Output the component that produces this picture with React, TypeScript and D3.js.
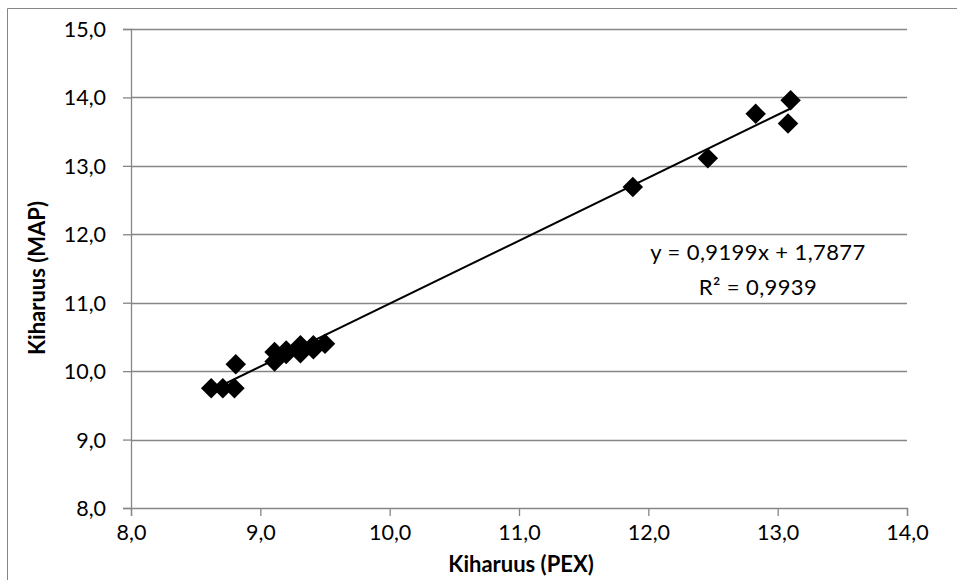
import { useEffect, useRef } from "react";
import * as d3 from "d3";

// PEX vs MAP readings
const pexValues = [8.62, 8.71, 8.8, 8.81, 9.11, 9.11, 9.2, 9.2, 9.31, 9.31, 9.41, 9.41, 9.5, 11.88, 12.46, 12.83, 13.08, 13.1];
const mapValues = [9.75, 9.75, 9.75, 10.1, 10.14, 10.28, 10.25, 10.3, 10.26, 10.38, 10.32, 10.38, 10.4, 12.69, 13.11, 13.76, 13.62, 13.96];
const xTicks = [8, 9, 10, 11, 12, 13, 14];
const yTicks = [8, 9, 10, 11, 12, 13, 14, 15];
const slope = 0.9199;
const intercept = 1.7877;
const equationLines = ["y = 0,9199x + 1,7877", "R² = 0,9939"];

const fmt = (d: number) => d3.format(".1f")(d).replace(".", ",");

const App = () => {
  const svgRef = useRef<SVGSVGElement | null>(null);

  useEffect(() => {
    const svg = d3.select(svgRef.current);
    svg.selectAll("*").remove();
    const width = 957;
    const height = 580;
    const margin = { top: 29, right: 50, bottom: 72, left: 131 };
    const innerWidth = width - margin.left - margin.right;
    const innerHeight = height - margin.top - margin.bottom;
    const font = "Lato, 'Open Sans', sans-serif";

    // chart frame (cut off at right and bottom)
    svg
      .append("path")
      .attr("d", `M7.5,${height + 2}V8.5H${width + 2}`)
      .attr("fill", "none")
      .attr("stroke", "#868686");

    const g = svg
      .append("g")
      .attr("transform", `translate(${margin.left},${margin.top})`);

    const x = d3.scaleLinear().domain([8, 14]).range([0, innerWidth]);
    const y = d3.scaleLinear().domain([8, 15]).range([innerHeight, 0]);

    // gridlines
    g.append("g")
      .selectAll("line")
      .data(yTicks.filter((t) => t > 8))
      .join("line")
      .attr("x1", 0)
      .attr("x2", innerWidth)
      .attr("y1", (d) => Math.round(y(d)) + 0.5)
      .attr("y2", (d) => Math.round(y(d)) + 0.5)
      .attr("stroke", "#868686")
      .attr("stroke-width", 1.3);

    const xAxis = d3
      .axisBottom(x)
      .tickValues(xTicks)
      .tickSize(8)
      .tickPadding(9)
      .tickFormat((d) => fmt(d as number));
    const yAxis = d3
      .axisLeft(y)
      .tickValues(yTicks)
      .tickSize(8)
      .tickPadding(17)
      .tickFormat((d) => fmt(d as number));

    const xg = g
      .append("g")
      .attr("transform", `translate(0,${innerHeight})`)
      .call(xAxis);
    const yg = g.append("g").call(yAxis);

    [xg, yg].forEach((ax) => {
      ax.selectAll(".domain").attr("stroke", "#868686").attr("stroke-width", 1.3);
      ax.selectAll(".tick line").attr("stroke", "#868686").attr("stroke-width", 1.3);
      ax.selectAll("text")
        .attr("fill", "#000")
        .style("font-family", font)
        .style("font-size", "21.5px");
    });
    yg.selectAll(".tick text").attr("dy", "0.35em");

    // trendline
    const xExt = d3.extent(pexValues) as [number, number];
    g.append("line")
      .attr("x1", x(xExt[0]))
      .attr("y1", y(slope * xExt[0] + intercept))
      .attr("x2", x(xExt[1]))
      .attr("y2", y(slope * xExt[1] + intercept))
      .attr("stroke", "#000")
      .attr("stroke-width", 2);

    const diamond = d3.symbol(d3.symbolSquare, 210);
    g.append("g")
      .selectAll("path")
      .data(pexValues.map((v, i) => [v, mapValues[i]]))
      .join("path")
      .attr("d", diamond)
      .attr("transform", (d) => `translate(${x(d[0])},${y(d[1])}) rotate(45)`)
      .attr("fill", "#000");

    // equation label
    svg
      .append("g")
      .selectAll("text")
      .data(equationLines)
      .join("text")
      .attr("x", 758)
      .attr("y", (_, i) => 260 + i * 35)
      .attr("text-anchor", "middle")
      .attr("fill", "#000")
      .style("font-family", font)
      .style("font-size", "22px")
      .style("letter-spacing", "0.4px")
      .text((d) => d);

    // axis titles
    svg
      .append("text")
      .attr("x", 521)
      .attr("y", 572)
      .attr("text-anchor", "middle")
      .style("font-family", font)
      .style("font-size", "22px")
      .style("font-weight", "bold")
      .text("Kiharuus (PEX)");

    svg
      .append("text")
      .attr("transform", `translate(45,278) rotate(-90)`)
      .attr("text-anchor", "middle")
      .style("font-family", font)
      .style("font-size", "22px")
      .style("font-weight", "bold")
      .text("Kiharuus (MAP)");
  }, []);

  return (
    <svg
      ref={svgRef}
      width={957}
      height={580}
      style={{ position: "absolute", left: 0, top: 0, background: "#fff" }}
    />
  );
};

export default App;
